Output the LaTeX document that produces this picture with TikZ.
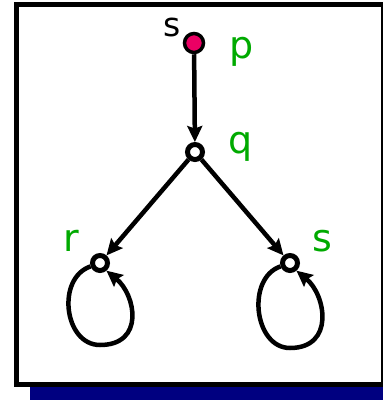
\documentclass[tikz,border=0pt]{standalone}
\usepackage{fontspec}
\setmainfont{DejaVu Sans}
\usetikzlibrary{arrows.meta,calc}
\definecolor{lblgreen}{RGB}{0,170,0}
\definecolor{startpink}{RGB}{235,0,100}
\definecolor{shadownavy}{RGB}{0,0,128}
\begin{document}
\begin{tikzpicture}[x=1pt,y=-1pt,
  state/.style={circle,draw,line width=5pt,minimum size=15pt,inner sep=0pt,fill=white},
  initstate/.style={circle,draw,line width=3.5pt,minimum size=19pt,inner sep=0pt,fill=startpink},
  arr/.style={line width=4.5pt,-{Stealth[length=16pt,width=15pt,inset=2.5pt]}},
  lbl/.style={text=lblgreen,font=\fontsize{38}{38}\selectfont,inner sep=0pt,anchor=base},
  tag/.style={text=black,font=\fontsize{33}{33}\selectfont,inner sep=0pt,anchor=base}]
\useasboundingbox (0,0) rectangle (383,400);
% drop shadow and frame
\fill[shadownavy] (30,387) rectangle (392,405);
\draw[line width=5.5pt,fill=white] (16.5,4.5) rectangle (384,384.5);

% states
\node[initstate] (p) at (194,43) {};
\node[state] (q) at (195,152) {};
\node[state] (r) at (100,263) {};
\node[state] (s) at (290,263) {};

% labels
\node[tag] (ps) at (172,36) {s};
\node[lbl] (lp) at (242,58) {p};
\node[lbl] (lq) at (241,153) {q};
\node[lbl] (lr) at (71,251) {r};
\node[lbl] (ls) at (322,251) {s};

% transitions
\draw[arr] (p) -- (q);
\draw[arr] (q) -- (r);
\draw[arr] (q) -- (s);
% self loops hanging below r and s
\draw[arr] (r.200) .. controls ($(r)+(-44,15)$) and ($(r)+(-36,82)$) .. ($(r)+(0,82)$)
  .. controls ($(r)+(45,82)$) and ($(r)+(36,32)$) .. (r.-50);
\draw[arr] (s.200) .. controls ($(s)+(-44,15)$) and ($(s)+(-36,85)$) .. ($(s)+(0,85)$)
  .. controls ($(s)+(45,85)$) and ($(s)+(36,32)$) .. (s.-50);
\end{tikzpicture}
\end{document}
